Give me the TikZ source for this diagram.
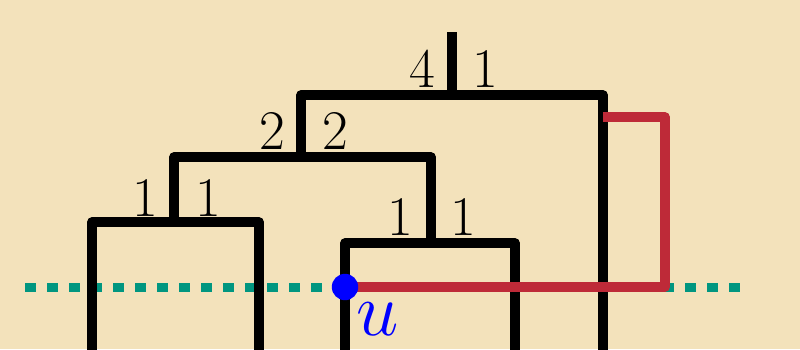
\RequirePackage{fix-cm}
\documentclass[tikz,border=0pt]{standalone}
\begin{document}
\begin{tikzpicture}[x=0.5pt,y=-0.5pt,
  tree/.style={line width=4.6pt, black, line join=round},
  redpath/.style={line width=4.6pt, redc, line join=round},
  teal/.style={line width=4.5pt, tealc, dash pattern=on 5.3pt off 5.7pt},
  num/.style={font=\fontsize{28}{30}\selectfont, inner sep=0pt}]
\definecolor{bgcol}{RGB}{243,226,187}
\definecolor{redc}{RGB}{190,42,56}
\definecolor{tealc}{RGB}{0,150,128}
\definecolor{bluec}{RGB}{0,0,255}
\fill[bgcol] (0,0) rectangle (800,349);
\useasboundingbox (0,0) rectangle (800,349);
\clip (0,0) rectangle (800,349);
% coordinates
\coordinate (u) at (345,287);
\coordinate (tl) at (25,287);
\coordinate (tr) at (740,287);
% teal dotted line
\draw[teal] (tl) -- (tr);
% boxes
\draw[tree] (92,360) -- (92,222) -- (259,222) -- (259,360);
\draw[tree] (174,222) -- (174,157) -- (431,157) -- (431,243);
\draw[tree] (345,360) -- (345,243) -- (515,243) -- (515,360);
\draw[tree] (301,157) -- (301,95) -- (603,95) -- (603,360);
\draw[tree] (452,95) -- (452,32);
% red path
\draw[redpath] (u) -- (665,287) -- (665,117) -- (603,117);
% blue dot
\fill[bluec] (u) circle (6.6pt);
\node[num, text=bluec, font=\fontsize{38}{40}\selectfont] (ul) at (378,319) {$u$};
% numbers
\node[num] (n4) at (422,69) {$4$};
\node[num] (n1a) at (485,69) {$1$};
\node[num] (n2a) at (272,131) {$2$};
\node[num] (n2b) at (335,131) {$2$};
\node[num] (n1b) at (145,198) {$1$};
\node[num] (n1c) at (208,198) {$1$};
\node[num] (n1d) at (400,217) {$1$};
\node[num] (n1e) at (463,217) {$1$};
\end{tikzpicture}
\end{document}
